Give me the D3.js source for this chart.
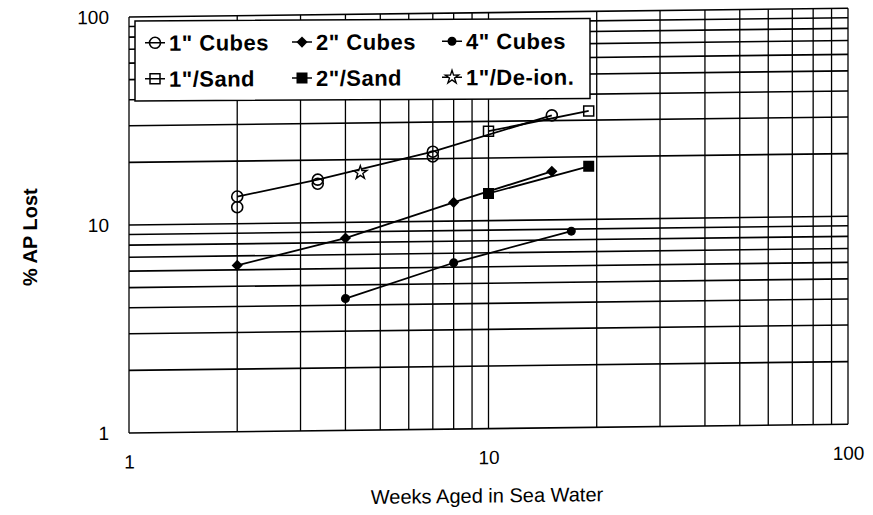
<!DOCTYPE html>
<html>
<head>
<meta charset="utf-8">
<script src="https://cdn.jsdelivr.net/npm/d3@7"></script>
<style>
  html, body { margin: 0; padding: 0; background: #fff; }
  svg { display: block; font-family: Arial, "Liberation Sans", Helvetica, sans-serif; }
</style>
</head>
<body>
<svg id="chart" width="873" height="515"></svg>
<script>
// ---- data ----
const xTickLabels = [1, 10, 100];
const yTickLabels = [1, 10, 100];
const xTitle = "Weeks Aged in Sea Water";
const yTitle = "% AP Lost";

const cubes1X = [2, 2, 3.35, 3.35, 7, 7, 15];
const cubes1Y = [13.5, 12.0, 16.1, 15.4, 21.6, 20.5, 31.8];
const cubes2X = [2, 4, 8, 15];
const cubes2Y = [6.3, 8.4, 12.3, 17.1];
const cubes4X = [4, 8, 17];
const cubes4Y = [4.3, 6.3, 8.8];
const sand1X = [10, 19];
const sand1Y = [26.9, 33.2];
const sand2X = [10, 19];
const sand2Y = [13.5, 18.0];
const deion1X = [4.4];
const deion1Y = [17.3];

const seriesNames = ['1" Cubes', '2" Cubes', '4" Cubes', '1"/Sand', '2"/Sand', '1"/De-ion.'];

const series = [
  { name: seriesNames[0], xs: cubes1X, ys: cubes1Y, marker: "circleOpen" },
  { name: seriesNames[1], xs: cubes2X, ys: cubes2Y, marker: "diamond" },
  { name: seriesNames[2], xs: cubes4X, ys: cubes4Y, marker: "dot" },
  { name: seriesNames[3], xs: sand1X, ys: sand1Y, marker: "squareOpen" },
  { name: seriesNames[4], xs: sand2X, ys: sand2Y, marker: "squareFilled" },
  { name: seriesNames[5], xs: deion1X, ys: deion1Y, marker: "star" }
];

// ---- layout ----
const svg = d3.select("#chart");
const plot = { left: 129, right: 848, top: 17, bottom: 433 };

const x = d3.scaleLog().domain([1, 100]).range([plot.left, plot.right]);
const y = d3.scaleLog().domain([1, 100]).range([plot.bottom, plot.top]);

// the scanned original is slightly tilted
const g = svg.append("g")
  .attr("transform", `translate(${plot.left},0) skewY(-0.7) translate(${-plot.left},0)`);

// grid
const gridVals = [];
[1, 10].forEach(d => { for (let k = 1; k <= 10; k++) gridVals.push(d * k); });
const gridUnique = Array.from(new Set(gridVals));

g.append("g").selectAll("line").data(gridUnique).join("line")
  .attr("x1", d => x(d)).attr("x2", d => x(d))
  .attr("y1", plot.top).attr("y2", plot.bottom)
  .attr("stroke", "#000").attr("stroke-width", 1.3);

g.append("g").selectAll("line").data(gridUnique).join("line")
  .attr("y1", d => y(d)).attr("y2", d => y(d))
  .attr("x1", plot.left).attr("x2", plot.right)
  .attr("stroke", "#000").attr("stroke-width", 1.6);

// axes (labels only)
const xAxis = d3.axisBottom(x).tickValues(xTickLabels).tickFormat(d3.format("d")).tickSize(0).tickPadding(22);
g.append("g").attr("transform", `translate(0,${plot.bottom})`).call(xAxis)
  .call(a => a.select(".domain").remove())
  .selectAll("text").attr("font-size", 19).attr("font-family", "Arial, 'Liberation Sans', sans-serif").attr("fill", "#000");

const yAxis = d3.axisLeft(y).tickValues(yTickLabels).tickFormat(d3.format("d")).tickSize(0).tickPadding(20);
g.append("g").attr("transform", `translate(${plot.left},0)`).call(yAxis)
  .call(a => a.select(".domain").remove())
  .selectAll("text").attr("font-size", 19).attr("font-family", "Arial, 'Liberation Sans', sans-serif").attr("fill", "#000");

// titles
g.append("text").attr("x", 487).attr("y", 507).attr("text-anchor", "middle")
  .attr("font-size", 20).text(xTitle);
g.append("text").attr("transform", "translate(37,236) rotate(-90)").attr("text-anchor", "middle")
  .attr("font-size", 20).attr("font-weight", "bold").text(yTitle);

// markers
function drawMarker(sel, type, cx, cy) {
  const s = sel.append("g").attr("transform", `translate(${cx},${cy})`);
  if (type === "circleOpen") {
    s.append("circle").attr("r", 5.5).attr("fill", "none").attr("stroke", "#000").attr("stroke-width", 1.6);
  } else if (type === "diamond") {
    s.append("path").attr("d", d3.symbol(d3.symbolDiamond2, 80)()).attr("fill", "#000");
  } else if (type === "dot") {
    s.append("circle").attr("r", 4.5).attr("fill", "#000");
  } else if (type === "squareOpen") {
    s.append("rect").attr("x", -5).attr("y", -5).attr("width", 10).attr("height", 10)
      .attr("fill", "none").attr("stroke", "#000").attr("stroke-width", 1.5);
  } else if (type === "squareFilled") {
    s.append("rect").attr("x", -5.5).attr("y", -5.5).attr("width", 11).attr("height", 11).attr("fill", "#000");
  } else if (type === "star") {
    s.append("path").attr("d", d3.symbol(d3.symbolStar, 55)()).attr("fill", "#fff")
      .attr("stroke", "#000").attr("stroke-width", 1.4);
  }
}

const line = d3.line().x(d => x(d[0])).y(d => y(d[1]));

series.forEach(s => {
  const pts = s.xs.map((xv, i) => [xv, s.ys[i]]);
  // one line vertex per x (first reading at that x)
  const linePts = Array.from(d3.group(pts, d => d[0]).values(), v => v[0]);
  g.append("path").datum(linePts).attr("d", line)
    .attr("fill", "none").attr("stroke", "#000").attr("stroke-width", 1.8);
});
series.forEach(s => {
  const mg = g.append("g");
  s.xs.forEach((xv, i) => drawMarker(mg, s.marker, x(xv), y(s.ys[i])));
});

// legend (tilted a little less than the grid in the scan)
const leg = g.append("g").attr("transform", "translate(135,0) skewY(0.4) translate(-135,0)");
leg.append("rect").attr("x", 135).attr("y", 21).attr("width", 455).attr("height", 80)
  .attr("fill", "#fff").attr("stroke", "#000").attr("stroke-width", 1.5);
const colX = [145, 292, 442];
const rowY = [43, 79];
series.forEach((s, i) => {
  const cx = colX[i % 3], cy = rowY[Math.floor(i / 3)];
  leg.append("line").attr("x1", cx).attr("x2", cx + 20).attr("y1", cy).attr("y2", cy)
    .attr("stroke", "#000").attr("stroke-width", 1.5);
  drawMarker(leg, s.marker, cx + 10, cy);
  leg.append("text").attr("x", cx + 24).attr("y", cy + 8)
    .attr("font-size", 22).attr("font-weight", "bold").attr("letter-spacing", 0.5).text(s.name);
});
</script>
</body>
</html>
